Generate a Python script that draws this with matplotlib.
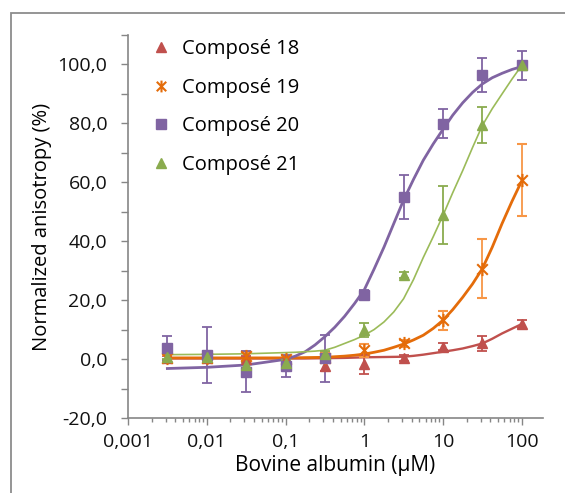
import numpy as np
import matplotlib
matplotlib.use("Agg")
import matplotlib.pyplot as plt
from matplotlib.path import Path
from matplotlib.patches import Rectangle
from matplotlib.ticker import FixedLocator, NullFormatter, FuncFormatter
from matplotlib.lines import Line2D

plt.rcParams['font.family'] = ['Open Sans', 'DejaVu Sans']

# concentrations (µM)
conc = [0.00316, 0.01, 0.0316, 0.1, 0.316, 1, 3.16, 10, 31.6, 100]

# mesures + erreurs
c18 = [0.2, 0.5, 0.0, 0.0, -2.5, -1.8, 0.5, 4.2, 5.4, 11.9]
e18 = [1.0, 1.0, 1.0, 1.0, 1.5, 3.2, 1.0, 1.2, 2.5, 1.5]
c19 = [0.5, 0.5, 1.0, 0.0, 0.5, 3.0, 5.3, 13.1, 30.7, 60.8]
e19 = [1.0, 1.0, 1.5, 1.0, 2.0, 2.2, 1.2, 3.3, 10.0, 12.2]
c20 = [3.8, 1.5, -4.3, -2.3, 0.2, 21.9, 55.0, 79.9, 96.3, 99.7]
e20 = [4.0, 9.5, 7.0, 3.7, 8.0, 1.5, 7.5, 5.0, 5.8, 4.9]
c21 = [0.8, 0.8, -2.0, -1.3, 1.6, 9.8, 28.5, 48.8, 79.5, 99.7]
e21 = [0.8, 0.8, 1.0, 1.0, 1.0, 2.4, 1.0, 9.8, 6.0, 1.0]

# courbes d'ajustement
conc_fit = [0.00316, 0.01, 0.0316, 0.1, 0.133, 0.178, 0.237, 0.316, 0.422, 0.562, 0.750,
            1, 1.33, 1.78, 2.37, 3.16, 4.22, 5.62, 7.50, 10, 13.3, 17.8, 23.7, 31.6,
            42.2, 56.2, 75.0, 100]
fit18 = [0.2, 0.2, 0.2, 0.2, 0.2, 0.2, 0.25, 0.3, 0.35, 0.4, 0.5, 0.6, 0.65, 0.7,
         0.75, 0.8, 1.1, 1.5, 2.0, 2.5, 3.0, 3.6, 4.4, 5.3, 6.9, 8.7, 10.3, 11.9]
fit19 = [0.4, 0.4, 0.4, 0.4, 0.45, 0.5, 0.55, 0.6, 0.8, 1.0, 1.3, 1.7, 2.3, 3.0,
         4.0, 5.1, 6.5, 8.1, 10.4, 13.2, 16.8, 21.0, 25.5, 30.7, 38.0, 46.0, 53.5, 60.5]
fit20 = [-3.2, -2.8, -2.0, -0.1, 1.0, 2.5, 4.8, 7.6, 10.8, 14.5, 18.8, 23.5, 30.5, 38.0,
         46.0, 54.0, 61.0, 67.5, 73.0, 78.0, 82.8, 87.0, 90.5, 93.4, 95.5, 97.0, 98.3, 99.3]
fit21 = [1.5, 1.6, 1.8, 2.2, 2.3, 2.5, 2.7, 3.0, 4.0, 5.3, 6.6, 8.1, 10.0, 12.6,
         16.0, 20.5, 27.0, 34.5, 41.5, 48.8, 56.5, 64.0, 71.8, 79.3, 85.0, 90.0, 95.0, 99.7]

labels = ['Composé 18', 'Composé 19', 'Composé 20', 'Composé 21']

# marqueur étoile façon Excel (X + barre verticale)
star = Path([(-1, -1), (1, 1), (-1, 1), (1, -1), (0, -1.25), (0, 1.25)],
            [Path.MOVETO, Path.LINETO, Path.MOVETO, Path.LINETO, Path.MOVETO, Path.LINETO])

red, red_l = '#C0504D', '#C0504D'
ora, ora_l = '#F79646', '#E46C0A'
pur, pur_l = '#8064A2', '#8064A2'
gre, gre_l = '#8AAB4E', '#9BBB59'

fig = plt.figure(figsize=(5.65, 4.93), dpi=100)
ax = fig.add_axes([128 / 565, 1 - 418 / 493, (543 - 128) / 565, (418 - 35) / 493])

ax.plot(conc_fit, fit18, color=red_l, lw=1.7, zorder=2, solid_joinstyle='round')
ax.plot(conc_fit, fit19, color=ora_l, lw=2.0, zorder=2, solid_joinstyle='round')
ax.plot(conc_fit, fit20, color=pur_l, lw=2.0, zorder=2, solid_joinstyle='round')
ax.plot(conc_fit, fit21, color=gre_l, lw=1.2, zorder=2, solid_joinstyle='round')

kw = dict(ls='none', capsize=3.5, elinewidth=1.3, capthick=1.3, zorder=3)
ax.errorbar(conc, c18, yerr=e18, fmt='^', color=red, ms=7, **kw)
ax.errorbar(conc, c19, yerr=e19, marker=star, color=ora, mec=ora_l, mew=1.5, ms=9.5,
            ecolor=ora, **kw)
ax.errorbar(conc, c20, yerr=e20, fmt='s', color=pur, ms=6.5, **kw)
ax.errorbar(conc, c21, yerr=e21, fmt='^', color=gre, ms=7, **kw)

ax.set_xscale('log')
ax.set_xlim(0.001, 186)
ax.set_ylim(-20, 110)
ax.xaxis.set_major_locator(FixedLocator([0.001, 0.01, 0.1, 1, 10, 100]))
ax.xaxis.set_major_formatter(FuncFormatter(lambda v, p: f'{v:g}'.replace('.', ',')))
ax.xaxis.set_minor_locator(FixedLocator([m * 10.0 ** d for d in range(-3, 3) for m in range(2, 10)
                                         if m * 10.0 ** d < 186]))
ax.xaxis.set_minor_formatter(NullFormatter())
ax.set_yticks(np.arange(-20, 101, 20))
ax.yaxis.set_major_formatter(FuncFormatter(lambda v, p: f'{v:.1f}'.replace('.', ',')))
ax.yaxis.set_minor_locator(FixedLocator(np.arange(-10, 111, 20)))

for s in ['top', 'right']:
    ax.spines[s].set_visible(False)
for s in ['left', 'bottom']:
    ax.spines[s].set_color('#868686')
    ax.spines[s].set_linewidth(1.2)
ax.tick_params(which='both', color='#868686', width=1.0, labelsize=14, labelcolor='#111111')
ax.tick_params(axis='y', which='both', length=5, pad=10)
ax.tick_params(axis='x', which='major', length=5, pad=6)
ax.tick_params(axis='x', which='minor', length=3)

ax.set_xlabel('Bovine albumin (µM)', fontsize=15, labelpad=3)
ax.set_ylabel('Normalized anisotropy (%)', fontsize=14.5, labelpad=4)

handles = [Line2D([], [], ls='none', marker='^', color=red, ms=7),
           Line2D([], [], ls='none', marker=star, color=ora, mec=ora_l, mew=1.5, ms=8.5),
           Line2D([], [], ls='none', marker='s', color=pur, ms=6.5),
           Line2D([], [], ls='none', marker='^', color=gre, ms=7)]
ax.legend(handles, labels, loc='upper left', bbox_to_anchor=(0.012, 1.036), frameon=False,
          fontsize=14.5, handletextpad=0.55, labelspacing=0.92, handlelength=1.0)

fig.patches.append(Rectangle((11 / 565, -0.2), 1.5, 1 - 13 / 493 + 0.2, transform=fig.transFigure,
                             fill=False, edgecolor='#8c8c8c', lw=1.3))

fig.savefig('out.png', dpi=100)
